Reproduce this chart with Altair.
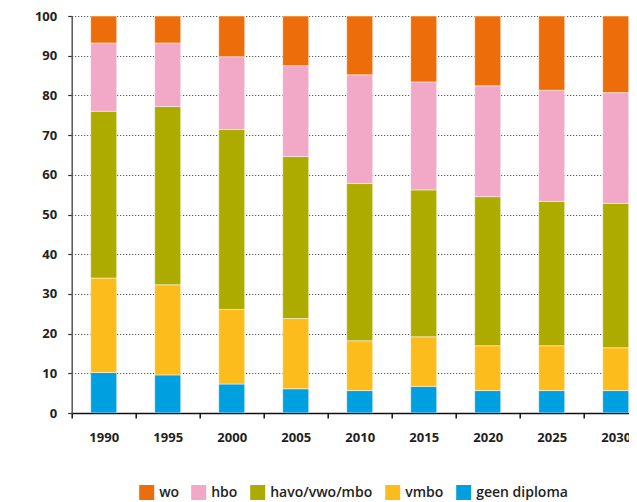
import altair as alt
import pandas as pd

years = [1990, 1995, 2000, 2005, 2010, 2015, 2020, 2025, 2030]
categories = ["wo", "hbo", "havo/vwo/mbo", "vmbo", "geen diploma"]
colors = ["#EC6D0A", "#F2A8C7", "#ADAB00", "#FBBC1C", "#009FE0"]

geen_diploma = [10.2, 9.6, 7.3, 6.1, 5.65, 6.7, 5.65, 5.65, 5.65]
vmbo = [23.8, 22.7, 18.8, 17.7, 12.55, 12.5, 11.3, 11.3, 10.8]
havo_vwo_mbo = [42.0, 44.9, 45.3, 40.8, 39.6, 37.0, 37.55, 36.35, 36.35]
hbo = [17.2, 16.0, 18.35, 22.9, 27.4, 27.2, 27.9, 28.0, 27.9]
wo = [6.8, 6.8, 10.25, 12.5, 14.8, 16.6, 17.6, 18.7, 19.3]

series = {
    "geen diploma": geen_diploma,
    "vmbo": vmbo,
    "havo/vwo/mbo": havo_vwo_mbo,
    "hbo": hbo,
    "wo": wo,
}

rows = []
for rank, (cat, vals) in enumerate(series.items()):
    for yr, v in zip(years, vals):
        rows.append({"jaar": yr, "categorie": cat, "waarde": v, "rank": rank})
df = pd.DataFrame(rows)

FONT = "Open Sans"
px_per_year = 12.8
pad_left = 63.7
plot_w = 621 - pad_left
x_domain = [years[0] - 2.5, years[0] - 2.5 + plot_w / px_per_year]

chart = alt.Chart(df).mark_bar(size=26, stroke="white", strokeWidth=0.5, clip=True).encode(
    x=alt.X(
        "jaar:Q",
        scale=alt.Scale(domain=x_domain, nice=False, zero=False, padding=0),
        axis=alt.Axis(
            values=[y - 2.5 for y in years],
            labelExpr="format(datum.value + 2.5, 'd')",
            labelOffset=2.5 * px_per_year,
            labelFlush=False,
            labelOverlap=False,
            labelBound=False,
            tickSize=5,
            tickWidth=1.5,
            tickColor="#111",
            domainColor="#111",
            domainWidth=1.5,
            labelPadding=13,
            labelFont=FONT,
            labelFontSize=13,
            labelFontWeight="bold",
            labelColor="#222",
            grid=False,
            title=None,
        ),
    ),
    y=alt.Y(
        "waarde:Q",
        stack="zero",
        scale=alt.Scale(domain=[0, 100], nice=False, padding=0),
        axis=alt.Axis(
            values=list(range(0, 101, 10)),
            grid=True,
            gridDash=[1, 2],
            gridColor="#333",
            gridWidth=1,
            domainColor="#555",
            domainWidth=1.5,
            tickSize=4,
            tickColor="#333",
            tickWidth=1.2,
            labelPadding=11,
            labelFont=FONT,
            labelFontSize=13,
            labelFontWeight="bold",
            labelColor="#222",
            title=None,
        ),
    ),
    color=alt.Color(
        "categorie:N",
        scale=alt.Scale(domain=categories, range=colors),
        legend=alt.Legend(
            title=None,
            orient="none",
            legendX=67.5,
            legendY=469,
            direction="horizontal",
            symbolType="square",
            symbolSize=225,
            symbolStrokeWidth=0,
            labelFont=FONT,
            labelFontSize=14,
            labelFontWeight=600,
            labelColor="#222",
            labelOffset=5,
            columnPadding=12,
        ),
    ),
    order=alt.Order("rank:Q", sort="ascending"),
).properties(
    width=plot_w,
    height=397,
    autosize=alt.AutoSizeParams(type="none"),
    padding={"left": pad_left, "top": 8, "right": 0, "bottom": 87},
).configure_view(stroke=None)

chart.save("out.html", embed_options={"renderer": "svg", "actions": False})
